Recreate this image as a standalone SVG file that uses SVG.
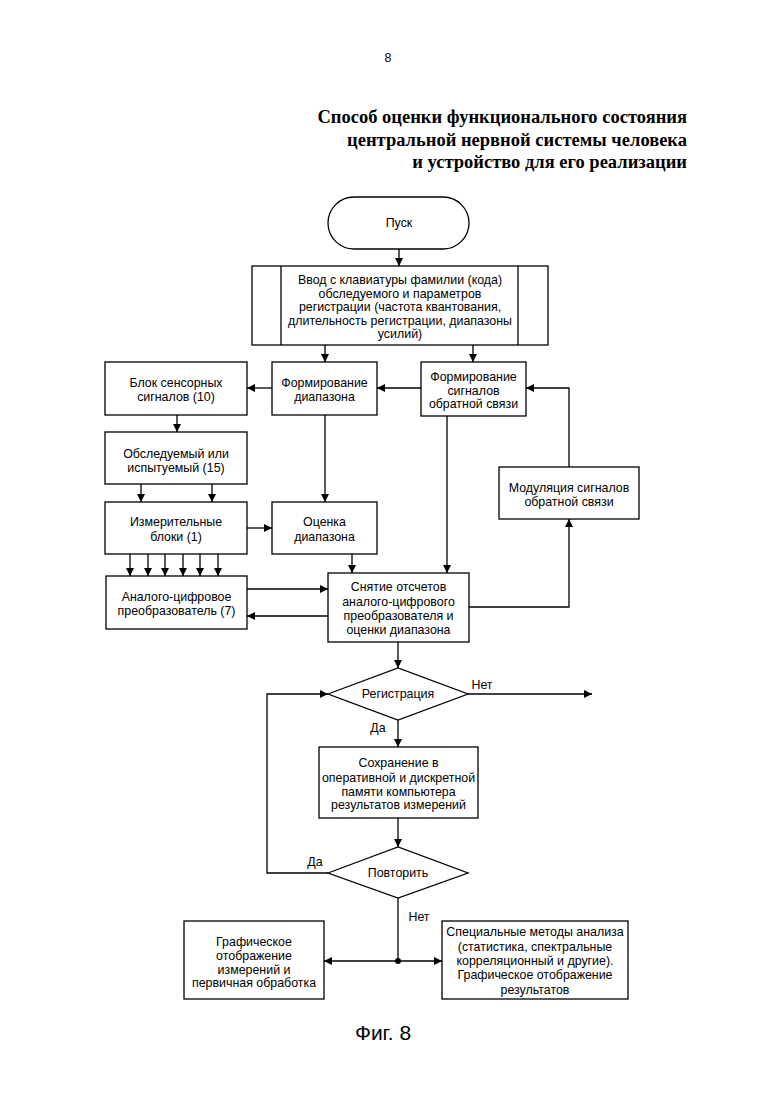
<svg xmlns="http://www.w3.org/2000/svg" width="780" height="1103" viewBox="0 0 780 1103">
<defs>
<marker id="ah" viewBox="0 0 10 10" refX="10" refY="5" markerWidth="8" markerHeight="8" markerUnits="userSpaceOnUse" orient="auto">
<path d="M0,0 L10,5 L0,10 Z" fill="#000"/>
</marker>
<style>
.b{fill:#fff;stroke:#000;stroke-width:1.3}
.t{font-family:"Liberation Sans",Arial,sans-serif;font-size:12.4px;fill:#000;text-anchor:middle}
.c{fill:none;stroke:#000;stroke-width:1.3}
.a{fill:none;stroke:#000;stroke-width:1.3;marker-end:url(#ah)}
.ti{font-family:"Liberation Serif","Times New Roman",serif;font-size:18.5px;font-weight:bold;fill:#000;text-anchor:end}
</style>
</defs>
<rect width="780" height="1103" fill="#fff"/>
<text x="388" y="62" class="t">8</text>
<text x="687" y="123" class="ti">Способ оценки функционального состояния</text>
<text x="687" y="146" class="ti">центральной нервной системы человека</text>
<text x="687" y="168" class="ti">и устройство для его реализации</text>

<g id="connectors">
<line x1="399" y1="249" x2="399" y2="266" class="a"/>
<line x1="325" y1="345" x2="325" y2="362" class="a"/>
<line x1="473" y1="345" x2="473" y2="362" class="a"/>
<line x1="272" y1="388" x2="247" y2="388" class="a"/>
<line x1="421" y1="388" x2="377" y2="388" class="a"/>
<line x1="177" y1="415" x2="177" y2="432" class="a"/>
<line x1="141" y1="484" x2="141" y2="502" class="a"/>
<line x1="212" y1="484" x2="212" y2="502" class="a"/>
<line x1="325" y1="415" x2="325" y2="502" class="a"/>
<line x1="247" y1="528" x2="272" y2="528" class="a"/>
<line x1="130" y1="554" x2="130" y2="576" class="a"/>
<line x1="148" y1="554" x2="148" y2="576" class="a"/>
<line x1="165" y1="554" x2="165" y2="576" class="a"/>
<line x1="183" y1="554" x2="183" y2="576" class="a"/>
<line x1="200" y1="554" x2="200" y2="576" class="a"/>
<line x1="218" y1="554" x2="218" y2="576" class="a"/>
<line x1="352" y1="554" x2="352" y2="573" class="a"/>
<line x1="447" y1="416" x2="447" y2="573" class="a"/>
<line x1="247" y1="589" x2="328" y2="589" class="a"/>
<line x1="328" y1="616" x2="247" y2="616" class="a"/>
<path d="M469,607 H569 V519" class="a"/>
<path d="M569,467 V388 H526" class="a"/>
<line x1="398" y1="642" x2="398" y2="668" class="a"/>
<line x1="468" y1="694" x2="592" y2="694" class="a"/>
<line x1="398" y1="720" x2="398" y2="747" class="a"/>
<line x1="398" y1="818" x2="398" y2="847" class="a"/>
<path d="M328,873 H267 V694 H328" class="a"/>
<line x1="398" y1="898" x2="398" y2="961" class="c"/>
<line x1="398" y1="961" x2="324" y2="961" class="a"/>
<line x1="398" y1="961" x2="442" y2="961" class="a"/>
<circle cx="398" cy="961" r="3" fill="#000"/>
<text x="482" y="689" class="t">Нет</text>
<text x="378" y="732" class="t">Да</text>
<text x="315" y="866" class="t">Да</text>
<text x="419" y="921" class="t">Нет</text>
</g>

<g id="start">
<rect x="328" y="197" width="141" height="52" rx="26" class="b"/>
<text x="399" y="227" class="t">Пуск</text>
</g>

<g id="input">
<rect x="252" y="266" width="296" height="79" class="b"/>
<line x1="281" y1="266" x2="281" y2="345" class="c"/>
<line x1="518" y1="266" x2="518" y2="345" class="c"/>
<text class="t"><tspan x="400" y="284">Ввод с клавиатуры фамилии (кода)</tspan><tspan x="400" y="297.5">обследуемого и параметров</tspan><tspan x="400" y="311">регистрации (частота квантования,</tspan><tspan x="400" y="324.5">длительность регистрации, диапазоны</tspan><tspan x="400" y="338">усилий)</tspan></text>
</g>

<g id="sensor">
<rect x="105" y="362" width="142" height="53" class="b"/>
<text class="t"><tspan x="176" y="387">Блок сенсорных</tspan><tspan x="176" y="401">сигналов (10)</tspan></text>
</g>

<g id="formdiap">
<rect x="272" y="362" width="105" height="53" class="b"/>
<text class="t"><tspan x="324.5" y="387">Формирование</tspan><tspan x="324.5" y="401">диапазона</tspan></text>
</g>

<g id="formsig">
<rect x="421" y="362" width="105" height="54" class="b"/>
<text class="t"><tspan x="473.5" y="381">Формирование</tspan><tspan x="473.5" y="394.5">сигналов</tspan><tspan x="473.5" y="408">обратной связи</tspan></text>
</g>

<g id="subject">
<rect x="105" y="432" width="142" height="52" class="b"/>
<text class="t"><tspan x="176" y="458">Обследуемый или</tspan><tspan x="176" y="472">испытуемый (15)</tspan></text>
</g>

<g id="modul">
<rect x="499" y="467" width="140" height="52" class="b"/>
<text class="t"><tspan x="569" y="492">Модуляция сигналов</tspan><tspan x="569" y="506">обратной связи</tspan></text>
</g>

<g id="measure">
<rect x="105" y="502" width="142" height="52" class="b"/>
<text class="t"><tspan x="176" y="526">Измерительные</tspan><tspan x="176" y="541">блоки (1)</tspan></text>
</g>

<g id="estimate">
<rect x="272" y="502" width="105" height="52" class="b"/>
<text class="t"><tspan x="324.5" y="526">Оценка</tspan><tspan x="324.5" y="541">диапазона</tspan></text>
</g>

<g id="adc">
<rect x="106" y="576" width="141" height="53" class="b"/>
<text class="t"><tspan x="176.5" y="601">Аналого-цифровое</tspan><tspan x="176.5" y="615">преобразователь (7)</tspan></text>
</g>

<g id="read">
<rect x="328" y="573" width="141" height="69" class="b"/>
<text class="t"><tspan x="398.5" y="591">Снятие отсчетов</tspan><tspan x="398.5" y="605.5">аналого-цифрового</tspan><tspan x="398.5" y="620">преобразователя и</tspan><tspan x="398.5" y="634">оценки диапазона</tspan></text>
</g>

<g id="reg">
<polygon points="328,694 398,668 468,694 398,720" class="b"/>
<text x="398" y="698" class="t">Регистрация</text>
</g>

<g id="save">
<rect x="319" y="747" width="159" height="71" class="b"/>
<text class="t"><tspan x="398.5" y="767">Сохранение в</tspan><tspan x="398.5" y="782">оперативной и дискретной</tspan><tspan x="398.5" y="796">памяти компьютера</tspan><tspan x="398.5" y="809">результатов измерений</tspan></text>
</g>

<g id="repeat">
<polygon points="328,873 398,847 468,873 398,898" class="b"/>
<text x="398" y="877" class="t">Повторить</text>
</g>

<g id="graph">
<rect x="184" y="921" width="140" height="78" class="b"/>
<text class="t"><tspan x="254" y="946">Графическое</tspan><tspan x="254" y="960">отображение</tspan><tspan x="254" y="974">измерений и</tspan><tspan x="254" y="987">первичная обработка</tspan></text>
</g>

<g id="special">
<rect x="442" y="921" width="186" height="78" class="b"/>
<text class="t"><tspan x="535" y="936">Специальные методы анализа</tspan><tspan x="535" y="951">(статистика, спектральные</tspan><tspan x="535" y="965">корреляционный и другие).</tspan><tspan x="535" y="979">Графическое отображение</tspan><tspan x="535" y="994">результатов</tspan></text>
</g>

<text x="383" y="1040" style="font-family:'Liberation Sans',Arial,sans-serif;font-size:21px;text-anchor:middle">Фиг. 8</text>
</svg>
